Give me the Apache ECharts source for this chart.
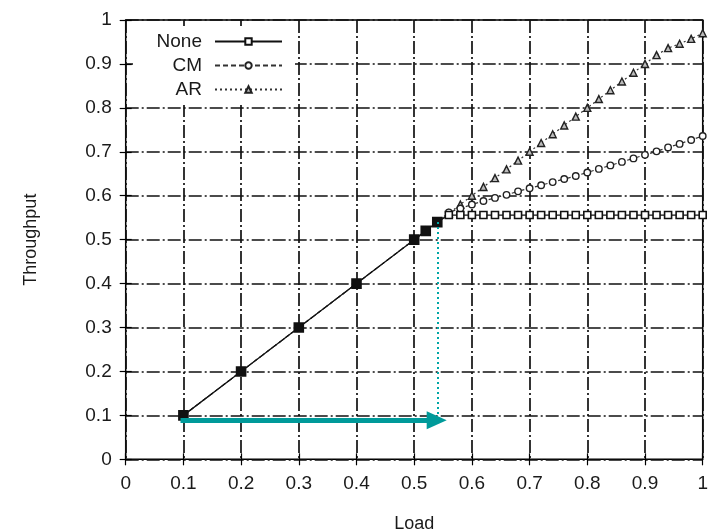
<!DOCTYPE html>
<html>
<head>
<meta charset="utf-8">
<script src="https://cdn.jsdelivr.net/npm/echarts@6/dist/echarts.min.js"></script>
<style>
  html, body { margin: 0; padding: 0; background: #fff; }
  #chart { width: 711px; height: 532px; }
</style>
</head>
<body>
<div id="chart"></div>
<script>
// Offered load (x) and measured throughput (y) for each scheme
const loads = [0.1, 0.2, 0.3, 0.4, 0.5, 0.52, 0.54, 0.56, 0.58, 0.6, 0.62, 0.64, 0.66, 0.68,
  0.7, 0.72, 0.74, 0.76, 0.78, 0.8, 0.82, 0.84, 0.86, 0.88, 0.9, 0.92, 0.94, 0.96, 0.98, 1.0];

const noneThroughput = [0.1, 0.2, 0.3, 0.4, 0.5, 0.52, 0.54, 0.556, 0.556, 0.556, 0.556, 0.556,
  0.556, 0.556, 0.556, 0.556, 0.556, 0.556, 0.556, 0.556, 0.556, 0.556, 0.556, 0.556, 0.556,
  0.556, 0.556, 0.556, 0.556, 0.556];

const cmThroughput = [0.1, 0.2, 0.3, 0.4, 0.5, 0.52, 0.54, 0.562, 0.571, 0.58, 0.588, 0.595,
  0.602, 0.61, 0.617, 0.624, 0.631, 0.638, 0.645, 0.653, 0.661, 0.669, 0.677, 0.685, 0.693,
  0.701, 0.71, 0.718, 0.727, 0.736];

const arThroughput = [0.1, 0.2, 0.3, 0.4, 0.5, 0.52, 0.54, 0.56, 0.58, 0.6, 0.62, 0.64, 0.66,
  0.68, 0.7, 0.72, 0.74, 0.76, 0.78, 0.8, 0.82, 0.84, 0.86, 0.88, 0.9, 0.92, 0.936, 0.946,
  0.957, 0.97];

const axisTicks = { min: 0, max: 1, interval: 0.1 };

// Annotation: arrow along the load axis and the drop line at the saturation load
const arrowStart = [0.095, 0.089];
const arrowEnd = [0.539, 0.089];
const dropTop = [0.54, 0.54];
const dropBottom = [0.54, 0.1];

// Where all three schemes coincide the stacked markers read as one solid block
const coincident = i => noneThroughput[i] === cmThroughput[i] && cmThroughput[i] === arThroughput[i];

const pairs = ys => loads.map((x, i) => [x, ys[i]]);
const nonePoints = loads.map((x, i) => coincident(i)
  ? { value: [x, noneThroughput[i]], symbolSize: 9, itemStyle: { color: '#111' } }
  : [x, noneThroughput[i]]);

const font = 'Liberation Sans, Arial, Helvetica, sans-serif';
const textColor = '#1a1a1a';
const gridDash = {
  show: true,
  lineStyle: { color: '#111', width: 1.7, type: [13, 3, 2, 3] }
};
const innerTick = { show: true, inside: true, length: 6, lineStyle: { color: '#000', width: 1.2 } };

const chart = echarts.init(document.getElementById('chart'), null, { renderer: 'canvas' });

chart.setOption({
  animation: false,
  backgroundColor: '#fff',
  textStyle: { fontFamily: font },
  grid: {
    left: 125.7, right: 8.3, top: 20, bottom: 72.7,
    outerBoundsMode: 'none',
    show: true, borderColor: '#000', borderWidth: 1.5, backgroundColor: 'transparent'
  },
  legend: {
    data: ['None', 'CM', 'AR'],
    orient: 'vertical',
    left: 133, top: 26,
    align: 'right',
    padding: [6, 12, 6, 10],
    itemGap: 5,
    itemWidth: 67,
    itemHeight: 8,
    backgroundColor: '#fff',
    selectedMode: false,
    textStyle: {
      fontFamily: font, fontSize: 19, color: textColor,
      width: 59, align: 'right', lineHeight: 19, padding: [0, 8, 0, 0]
    }
  },
  xAxis: [
    {
      type: 'value', ...axisTicks,
      name: 'Load', nameLocation: 'middle', nameGap: 56,
      nameTextStyle: { fontFamily: font, fontSize: 18, color: textColor },
      axisLine: { show: false },
      axisTick: innerTick,
      axisLabel: { fontFamily: font, fontSize: 19, color: textColor, margin: 15 },
      splitLine: gridDash
    },
    {
      type: 'value', ...axisTicks, position: 'top',
      axisLine: { show: false }, axisLabel: { show: false }, splitLine: { show: false },
      axisTick: innerTick
    }
  ],
  yAxis: [
    {
      type: 'value', ...axisTicks,
      name: 'Throughput', nameLocation: 'middle', nameGap: 86, nameRotate: 90,
      nameTextStyle: { fontFamily: font, fontSize: 18, color: textColor },
      axisLine: { show: false },
      axisTick: innerTick,
      axisLabel: { fontFamily: font, fontSize: 19, color: textColor, margin: 14 },
      splitLine: gridDash
    },
    {
      type: 'value', ...axisTicks, position: 'right',
      axisLine: { show: false }, axisLabel: { show: false }, splitLine: { show: false },
      axisTick: innerTick
    }
  ],
  series: [
    {
      name: 'AR', type: 'line', data: pairs(arThroughput),
      symbol: 'triangle', symbolSize: 7, showAllSymbol: true,
      lineStyle: { color: '#333', width: 1.2, type: [2, 3] },
      itemStyle: { color: '#bbb', borderColor: '#222', borderWidth: 1.4 },
      z: 3
    },
    {
      name: 'CM', type: 'line', data: pairs(cmThroughput),
      symbol: 'circle', symbolSize: 6.5, showAllSymbol: true,
      lineStyle: { color: '#333', width: 1.2, type: [5, 3] },
      itemStyle: { color: '#fff', borderColor: '#222', borderWidth: 1.4 },
      z: 3
    },
    {
      name: 'None', type: 'line', data: nonePoints,
      symbol: 'rect', symbolSize: 7, showAllSymbol: true,
      lineStyle: { color: '#111', width: 1.3, type: 'solid' },
      itemStyle: { color: '#fff', borderColor: '#111', borderWidth: 1.6 },
      z: 3,
      markLine: {
        silent: true, animation: false,
        label: { show: false },
        data: [
          [
            { coord: arrowStart, symbol: 'none',
              lineStyle: { color: '#009a9a', width: 5, type: 'solid' } },
            { coord: arrowEnd, symbol: 'triangle', symbolSize: [18, 20] }
          ],
          [
            { coord: dropTop, symbol: 'none',
              lineStyle: { color: '#00a6a6', width: 2, type: [2, 3] } },
            { coord: dropBottom, symbol: 'none' }
          ]
        ]
      }
    }
  ]
});
</script>
</body>
</html>
